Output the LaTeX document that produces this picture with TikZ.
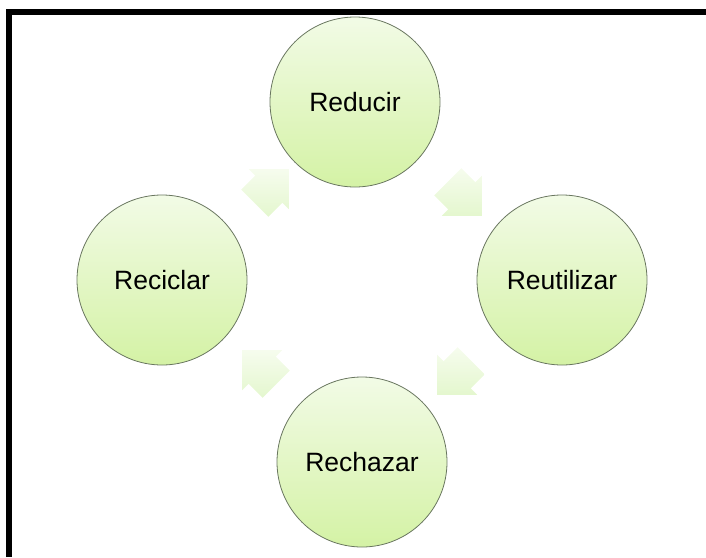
\documentclass[tikz,border=0pt]{standalone}
\usepackage{fontspec}
\setmainfont{Liberation Sans}
\usetikzlibrary{shapes.arrows}
\definecolor{cyclight}{RGB}{242,251,230}
\definecolor{cycdark}{RGB}{212,242,165}
\definecolor{cycedge}{RGB}{105,118,95}
\definecolor{flowlight}{RGB}{246,252,238}
\definecolor{flowdark}{RGB}{228,247,206}

\begin{document}
\begin{tikzpicture}[x=1pt, y=-1pt, every node/.style={font=\fontsize{26.5}{31}\selectfont}]
  \tikzset{
    stage/.style={circle, draw=cycedge, line width=0.8pt, minimum size=170pt, inner sep=0pt, top color=cyclight, bottom color=cycdark},
    flow/.style={single arrow, draw=none, inner xsep=0pt, inner ysep=19pt, minimum height=48pt, single arrow head extend=9pt, single arrow tip angle=90, top color=flowlight, bottom color=flowdark}
  }
  \useasboundingbox (0,0) rectangle (706,557);

  % Frame
  \draw[line width=6pt] (9,557) -- (9,12) -- (706,12);

  % Stages
  \node[stage] (reducir)    at (355,102) {Reducir};
  \node[stage] (reutilizar) at (562,280) {Reutilizar};
  \node[stage] (rechazar)   at (362,462) {Rechazar};
  \node[stage] (reciclar)   at (162,280) {Reciclar};

  % Arrows
  \node[flow, rotate=-45]  (toReutilizar) at (458,192) {};
  \node[flow, rotate=-135] (toRechazar)   at (461,371) {};
  \node[flow, rotate=135]  (toReciclar)   at (266,374) {};
  \node[flow, rotate=45]   (toReducir)    at (265,193) {};
\end{tikzpicture}
\end{document}
